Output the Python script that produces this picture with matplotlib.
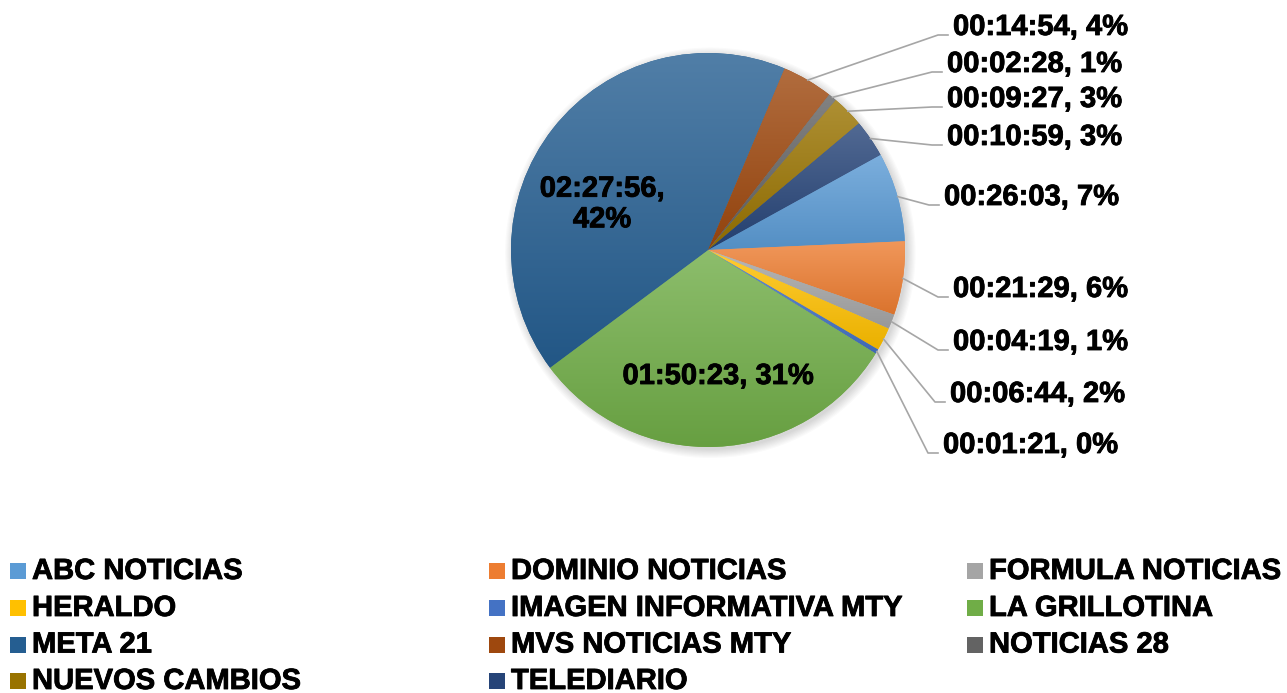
import matplotlib
matplotlib.use("Agg")
import matplotlib.pyplot as plt
import matplotlib.patheffects as pe
import numpy as np
from matplotlib.patches import Rectangle, Circle
from matplotlib.colors import to_rgb

# ---------------- data ----------------
categories = ["ABC NOTICIAS", "DOMINIO NOTICIAS", "FORMULA NOTICIAS", "HERALDO",
              "IMAGEN INFORMATIVA MTY", "LA GRILLOTINA", "META 21", "MVS NOTICIAS MTY",
              "NOTICIAS 28", "NUEVOS CAMBIOS", "TELEDIARIO"]
durations = ["00:26:03", "00:21:29", "00:04:19", "00:06:44", "00:01:21", "01:50:23",
             "02:27:56", "00:14:54", "00:02:28", "00:09:27", "00:10:59"]
colors = ["#5B9BD5", "#ED7D31", "#A5A5A5", "#FFC000", "#4472C4", "#70AD47",
          "#255E91", "#9E480E", "#636363", "#997300", "#264478"]

def to_seconds(s):
    h, m, sec = (int(p) for p in s.split(":"))
    return h * 3600 + m * 60 + sec

values = np.array([to_seconds(d) for d in durations], dtype=float)
total = values.sum()
labels = [f"{d}, {int(round(v / total * 100))}%" for d, v in zip(durations, values)]

# ---------------- layout (pixels) ----------------
W, H = 1287, 693
CX, CY, R = 708, 250, 197
# outside label anchors: index -> (left x, baseline y)
outside = {0: (944, 205), 1: (953, 297), 2: (953, 350), 3: (950, 402), 4: (943, 453),
           7: (953, 35), 8: (947, 72), 9: (947, 107), 10: (947, 145)}
inside = {5: (718, 376), 6: (602, 204)}

def px(x, y):
    return (x - CX) / R, (CY - y) / R

plt.rcParams['font.family'] = ['Liberation Sans', 'DejaVu Sans']
FS = 21
EFF = [pe.withStroke(linewidth=0.6, foreground="black")]

fig = plt.figure(figsize=(W / 100, H / 100), dpi=100)
ax = fig.add_axes([(CX - R) / W, (H - CY - R) / H, 2 * R / W, 2 * R / H])

# soft shadow
for k in range(8):
    ax.add_patch(Circle((0.012, -0.014), 1.0 + 0.006 * k, color="black",
                        alpha=0.018, lw=0, zorder=0, clip_on=False))

wedges, _ = ax.pie(values, colors=colors, startangle=28.9, counterclock=False,
                   radius=1.0, wedgeprops=dict(linewidth=0))

def blend(c, t, a):
    c = np.array(to_rgb(c)); t = np.array(t)
    return c * (1 - a) + t * a

for w, c in zip(wedges, colors):
    w.set_zorder(1)
    w.set_clip_on(False)
    ext = w.get_path().get_extents()
    top = blend(c, (1, 1, 1), 0.2)
    bot = blend(c, (0, 0, 0), 0.08)
    t = np.linspace(0, 1, 128)[:, None, None]
    grad = top * (1 - t) + bot * t
    grad = np.repeat(grad, 2, axis=1)
    im = ax.imshow(grad, extent=(ext.x0, ext.x1, ext.y0, ext.y1), origin="upper",
                   aspect="auto", zorder=2, interpolation="bilinear")
    im.set_clip_path(w)

ax.set_xlim(-1, 1)
ax.set_ylim(-1, 1)
ax.set_aspect("equal")
ax.axis("off")

# data labels
for i, w in enumerate(wedges):
    if i in outside:
        lx, ly = outside[i]
        mid = np.deg2rad((w.theta1 + w.theta2) / 2)
        sx, sy = np.cos(mid), np.sin(mid)
        ex, ey = px(lx - 15, ly)
        fx, fy = px(lx - 5, ly)
        ax.plot([sx, ex, fx], [sy, ey, fy], color="#A6A6A6", lw=1.2,
                clip_on=False, zorder=3)
        tx, ty = px(lx, ly)
        ax.text(tx, ty, labels[i], ha="left", va="baseline", fontsize=FS,
                fontweight="bold", clip_on=False, zorder=4, path_effects=EFF)
    else:
        lx, ly = inside[i]
        tx, ty = px(lx, ly)
        txt = labels[i].replace(", ", ",\n") if i == 6 else labels[i]
        ax.text(tx, ty, txt, ha="center", va="center", fontsize=FS,
                fontweight="bold", linespacing=1.12, zorder=4, path_effects=EFF)

# legend (row-major, 3 columns)
col_x = [10, 489, 967]
row_base = [579, 616, 652.5, 689]
for i, (name, c) in enumerate(zip(categories, colors)):
    col, row = i % 3, i // 3
    x0, yb = col_x[col], row_base[row]
    fig.add_artist(Rectangle((x0 / W, 1 - yb / H), 16 / W, 16 / H,
                             transform=fig.transFigure, facecolor=c, lw=0))
    fig.text((x0 + 22) / W, 1 - yb / H, name, ha="left", va="baseline",
             fontsize=FS, fontweight="bold", path_effects=EFF)

fig.savefig("out.png", dpi=100)
